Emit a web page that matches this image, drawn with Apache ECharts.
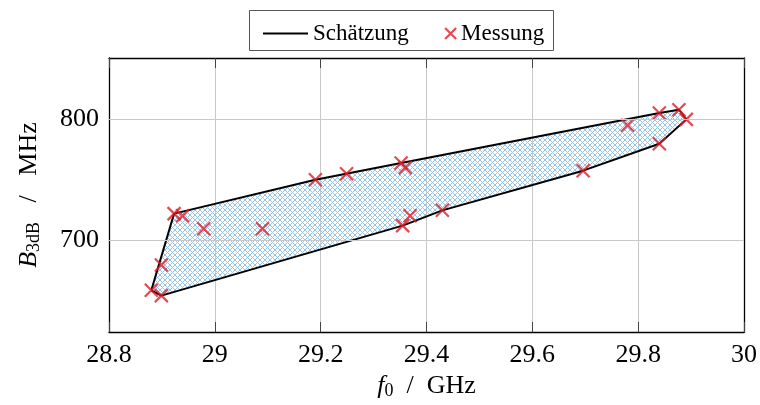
<!DOCTYPE html>
<html><head><meta charset="utf-8">
<script src="https://cdn.jsdelivr.net/npm/echarts@6/dist/echarts.min.js"></script>
<style>html,body{margin:0;background:#fff}#chart{width:760px;height:405px}</style>
</head><body><div id="chart"></div>
<script>
// Measured centre frequency (GHz) and 3 dB bandwidth (MHz)
const measF0   = [28.880, 28.899, 28.899, 28.923, 28.939, 28.979, 29.090, 29.190, 29.249, 29.352, 29.360, 29.355, 29.369, 29.430, 29.696, 29.780, 29.840, 29.840, 29.877, 29.891];
const measB3dB = [659.1, 654.7, 680.0, 722.3, 720.6, 709.9, 709.9, 750.3, 755.2, 764.0, 760.2, 712.4, 720.6, 725.0, 757.7, 795.1, 805.2, 779.9, 808.0, 800.0];
// Estimated region outline (closed polygon)
const estF0   = [28.880, 28.923, 29.190, 29.352, 29.840, 29.877, 29.891, 29.840, 29.696, 29.430, 29.355, 28.899, 28.880];
const estB3dB = [659.1, 722.3, 750.3, 764.0, 805.2, 808.0, 800.0, 779.9, 757.7, 725.0, 712.4, 654.7, 659.1];
// Axis ticks
const xTicks = [28.8, 29, 29.2, 29.4, 29.6, 29.8, 30];
const yTicks = [700, 800];

const FONT = 'Liberation Serif';
const CROSS = 'path://M0,0L10,10M10,0L0,10';
const RED = '#dc1e28';

// crosshatch tile for the estimated region (pixel-aligned diagonals)
const TILE = 5;
const tile = document.createElement('canvas');
tile.width = TILE; tile.height = TILE;
const tc = tile.getContext('2d');
tc.fillStyle = 'rgb(150,196,232)';
for (let i = 0; i < TILE; i++) {
  tc.fillRect(i, i, 1, 1);
  tc.fillRect(TILE - 1 - i, i, 1, 1);
}

const estPts = estF0.map((x, i) => [x, estB3dB[i]]);
const measPts = measF0.map((x, i) => [x, measB3dB[i]]);

const tickStyle = { inside: true, length: 10, lineStyle: { color: '#444', width: 1 } };
const nameRich = {
  i: { fontFamily: FONT, fontStyle: 'italic', fontSize: 26, color: '#000' },
  s: { fontFamily: FONT, fontSize: 18, color: '#000', padding: [10, 0, 0, 0] },
  n: { fontFamily: FONT, fontSize: 26, color: '#000' }
};

const chart = echarts.init(document.getElementById('chart'), null, { renderer: 'canvas' });
chart.setOption({
  animation: false,
  grid: { left: 109, right: 15, top: 58, bottom: 73, containLabel: false },
  legend: [
    {
      data: [{ name: 'Schätzung', icon: 'rect', itemStyle: { color: '#000' } }],
      left: 258, top: 17, itemWidth: 45, itemHeight: 2,
      textStyle: { fontFamily: FONT, fontSize: 23, color: '#000' }
    },
    {
      data: [{ name: 'Messung', icon: CROSS, itemStyle: { color: 'rgba(0,0,0,0)', borderColor: RED, borderWidth: 2.2 } }],
      left: 439, top: 17, itemWidth: 11, itemHeight: 11,
      textStyle: { fontFamily: FONT, fontSize: 23, color: '#000' }
    }
  ],
  graphic: [{
    type: 'rect', shape: { x: 249.5, y: 10.5, width: 304, height: 40 },
    style: { fill: 'none', stroke: '#555', lineWidth: 1 }, z: 10
  }],
  xAxis: [
    {
      type: 'value', min: xTicks[0], max: xTicks[xTicks.length - 1], interval: 0.2,
      axisLine: { onZero: false, lineStyle: { color: '#000', width: 1.3 } },
      axisTick: tickStyle,
      axisLabel: { fontFamily: FONT, fontSize: 26, color: '#000', margin: 10 },
      splitLine: { show: true, lineStyle: { color: '#c8c8c8', width: 1 } },
      name: '{i|f}{s|0}{n|  /  GHz}', nameLocation: 'middle', nameGap: 36,
      nameTextStyle: { rich: nameRich }
    },
    {
      type: 'value', position: 'top', min: xTicks[0], max: xTicks[xTicks.length - 1], interval: 0.2,
      axisLine: { onZero: false, lineStyle: { color: '#000', width: 1.3 } },
      axisTick: tickStyle, axisLabel: { show: false }, splitLine: { show: false }
    }
  ],
  yAxis: [
    {
      type: 'value', min: 624.7, max: 850.6,
      axisLine: { show: true, onZero: false, lineStyle: { color: '#000', width: 1.3 } },
      axisTick: Object.assign({ customValues: yTicks }, tickStyle),
      axisLabel: { customValues: yTicks, fontFamily: FONT, fontSize: 26, color: '#000', margin: 10 },
      splitLine: { show: false },
      name: '{i|B}{s|3dB}{n|   /   MHz}', nameLocation: 'middle', nameGap: 66, nameRotate: 90,
      nameTextStyle: { rich: nameRich }
    },
    {
      type: 'value', position: 'right', min: 624.7, max: 850.6,
      axisLine: { show: true, onZero: false, lineStyle: { color: '#000', width: 1.3 } },
      axisTick: Object.assign({ customValues: yTicks }, tickStyle),
      axisLabel: { show: false }, splitLine: { show: false }
    }
  ],
  series: [
    {
      // horizontal grid lines at the labelled bandwidth values
      type: 'line', data: [], silent: true, z: 0,
      markLine: {
        silent: true, symbol: 'none', label: { show: false },
        lineStyle: { color: '#c8c8c8', width: 1, type: 'solid' },
        data: yTicks.map(v => ({ yAxis: v }))
      }
    },
    {
      type: 'custom', silent: true, z: 1,
      data: estPts, encode: { x: 0, y: 1 },
      renderItem: (params, api) => {
        if (params.dataIndex !== 0) return null;
        const pts = estPts.map(p => api.coord(p));
        return {
          type: 'polygon', shape: { points: pts },
          style: { fill: { image: tile, repeat: 'repeat' }, stroke: 'none' }
        };
      }
    },
    {
      name: 'Schätzung', type: 'line', data: estPts, symbol: 'none', z: 3,
      lineStyle: { color: '#000', width: 2 }, itemStyle: { color: '#000' }
    },
    {
      name: 'Messung', type: 'scatter', data: measPts, symbol: CROSS, symbolSize: 13, z: 4,
      itemStyle: { color: 'rgba(0,0,0,0)', borderColor: RED, borderWidth: 2.2 }
    }
  ]
});
</script>
</body></html>
